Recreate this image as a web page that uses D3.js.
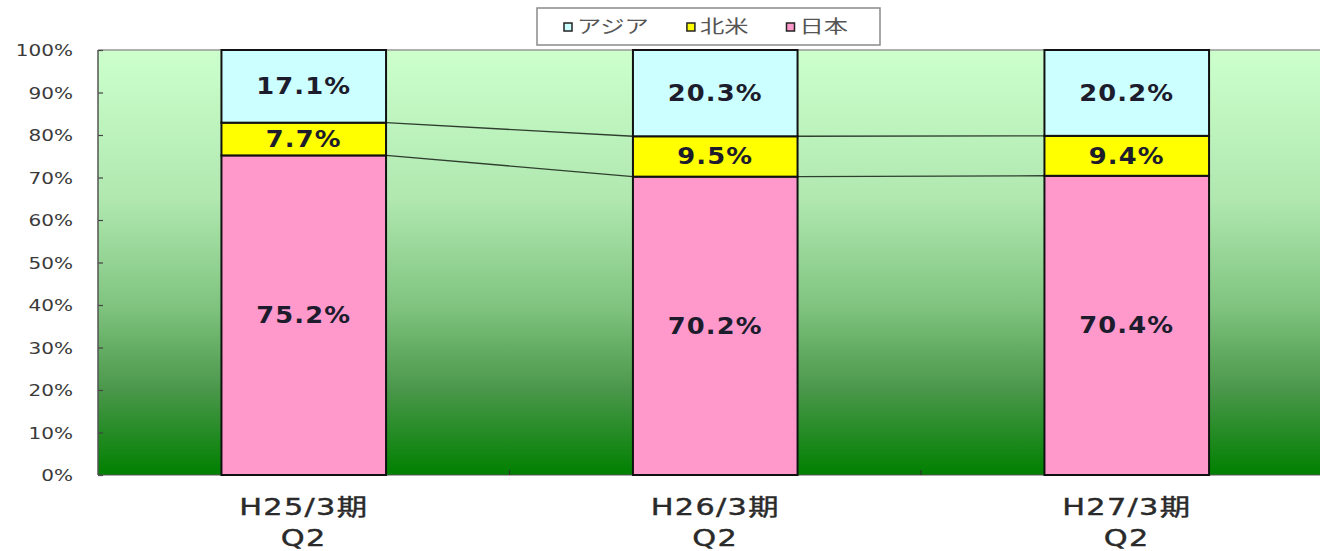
<!DOCTYPE html>
<html><head><meta charset="utf-8">
<script src="https://cdn.jsdelivr.net/npm/d3@7"></script>
<style>body{margin:0;background:#fff}svg{display:block}</style>
</head><body>
<svg id="c" width="1320" height="551"></svg>
<script>
const categories = ["H25/3期\nQ2", "H26/3期\nQ2", "H27/3期\nQ2"];
const seriesNames = ["日本", "北米", "アジア"];
const japan = [75.2, 70.2, 70.4];
const northAmerica = [7.7, 9.5, 9.4];
const asia = [17.1, 20.3, 20.2];
const yTicks = [0, 10, 20, 30, 40, 50, 60, 70, 80, 90, 100];
const legendOrder = ["アジア", "北米", "日本"];

const colors = {"日本": "#ff99cc", "北米": "#ffff00", "アジア": "#ccffff"};

const svg = d3.select("#c");
const FONT = "'DejaVu Sans','Noto Sans CJK JP',sans-serif";
const pLeft = 98, pTop = 50, pBottom = 475, pRight = 1332.5;

const x = d3.scaleBand().domain(categories).range([pLeft, pRight]).paddingInner(0.6).paddingOuter(0.3);
const y = d3.scaleLinear().domain([0, 100]).range([pBottom, pTop]);

// gradient background
const defs = svg.append("defs");
const g = defs.append("linearGradient").attr("id", "bg").attr("x1", 0).attr("y1", 0).attr("x2", 0).attr("y2", 1);
[[0, "#ccffcc"], [0.35, "#b0e8b0"], [0.6, "#80c480"], [0.8, "#4a974a"], [1, "#008000"]]
  .forEach(([o, c]) => g.append("stop").attr("offset", o).attr("stop-color", c));
svg.append("rect").attr("x", pLeft).attr("y", pTop).attr("width", pRight - pLeft).attr("height", pBottom - pTop).attr("fill", "url(#bg)");
svg.append("line").attr("x1", pLeft).attr("x2", pRight).attr("y1", pTop).attr("y2", pTop).attr("stroke", "#999").attr("stroke-width", 1.5);

function stretchedText(sel, tx, ty, txt, sx, opts) {
  const t = sel.append("text").attr("transform", `translate(${tx},${ty}) scale(${sx},1)`)
    .attr("font-family", FONT).text(txt);
  Object.entries(opts).forEach(([k, v]) => t.attr(k, v));
  return t;
}

// y axis
const yAxis = d3.axisLeft(y).tickValues(yTicks).tickSize(0).tickPadding(0).tickFormat(d => d + "%");
const ya = svg.append("g").attr("transform", `translate(${pLeft},0)`).call(yAxis);
ya.select(".domain").remove();
ya.selectAll(".tick text").remove();
ya.selectAll(".tick").each(function(d) {
  const tk = d3.select(this);
  tk.append("line").attr("x1", 0).attr("x2", 5).attr("stroke", "#444").attr("stroke-width", 1.2);
  stretchedText(tk, -25, 0, d + "%", 1.25, {"text-anchor": "end", "dominant-baseline": "central", "font-size": 16, "fill": "#3a3a3a"});
});
svg.append("line").attr("x1", pLeft).attr("x2", pLeft).attr("y1", pTop).attr("y2", pBottom).attr("stroke", "#555").attr("stroke-width", 1.5);

// x axis baseline + tick marks at band boundaries
svg.append("line").attr("x1", pLeft).attr("x2", pRight).attr("y1", pBottom).attr("y2", pBottom).attr("stroke", "#555").attr("stroke-width", 1.2);
categories.forEach(c => {
  const bx = x(c) + x.bandwidth() + x.step() * x.paddingInner() / 2;
  svg.append("line").attr("x1", bx).attr("x2", bx).attr("y1", pBottom).attr("y2", pBottom - 5).attr("stroke", "#333").attr("stroke-width", 1.2);
});

// stacked data
const rows = categories.map((c, i) => ({cat: c, "日本": japan[i], "北米": northAmerica[i], "アジア": asia[i]}));
const stack = d3.stack().keys(seriesNames)(rows);

// connector lines
stack.slice(0, 2).forEach(layer => {
  for (let i = 0; i < categories.length - 1; i++) {
    svg.append("line")
      .attr("x1", x(categories[i]) + x.bandwidth()).attr("y1", y(layer[i][1]))
      .attr("x2", x(categories[i + 1])).attr("y2", y(layer[i + 1][1]))
      .attr("stroke", "#2f3f2f").attr("stroke-width", 1.4);
  }
});

// bars
stack.forEach(layer => {
  const key = layer.key;
  svg.append("g").selectAll("rect").data(layer).join("rect")
    .attr("x", d => x(d.data.cat)).attr("width", x.bandwidth())
    .attr("y", d => y(d[1])).attr("height", d => y(d[0]) - y(d[1]))
    .attr("fill", colors[key]).attr("stroke", "#111").attr("stroke-width", 2);
});

// bar labels
stack.forEach(layer => {
  layer.forEach(d => {
    const cx = x(d.data.cat) + x.bandwidth() / 2;
    const cy = y((d[0] + d[1]) / 2);
    stretchedText(svg, cx, cy, d3.format(".1f")(d[1] - d[0]) + "%", 1.12,
      {"text-anchor": "middle", "dominant-baseline": "central", "font-size": 23, "font-weight": "bold", "fill": "#1c1c2c", "letter-spacing": 1});
  });
});

// category labels
categories.forEach(c => {
  const cx = x(c) + x.bandwidth() / 2;
  const lines = c.split("\n");
  stretchedText(svg, cx, 515, lines[0], 1.32, {"text-anchor": "middle", "font-size": 23, "fill": "#2a2a2a", "letter-spacing": 1, "stroke": "#2a2a2a", "stroke-width": 0.4});
  stretchedText(svg, cx, 546, lines[1], 1.32, {"text-anchor": "middle", "font-size": 23, "fill": "#2a2a2a", "letter-spacing": 1, "stroke": "#2a2a2a", "stroke-width": 0.4});
});

// legend
const lg = svg.append("g");
lg.append("rect").attr("x", 537).attr("y", 8).attr("width", 343).attr("height", 37).attr("fill", "#fff").attr("stroke", "#8a8a8a").attr("stroke-width", 1.5);
let cursor = 568;
const legendSx = 1.35;
legendOrder.forEach(k => {
  lg.append("rect").attr("x", cursor - 4).attr("y", 23).attr("width", 8).attr("height", 8)
    .attr("fill", colors[k]).attr("stroke", "#222").attr("stroke-width", 1.5);
  const t = stretchedText(lg, cursor + 9, 27, k, legendSx, {"dominant-baseline": "central", "font-size": 18, "fill": "#555"});
  const w = t.node().getComputedTextLength() * legendSx;
  cursor = cursor + 9 + w + 42;
});
</script>
</body></html>
